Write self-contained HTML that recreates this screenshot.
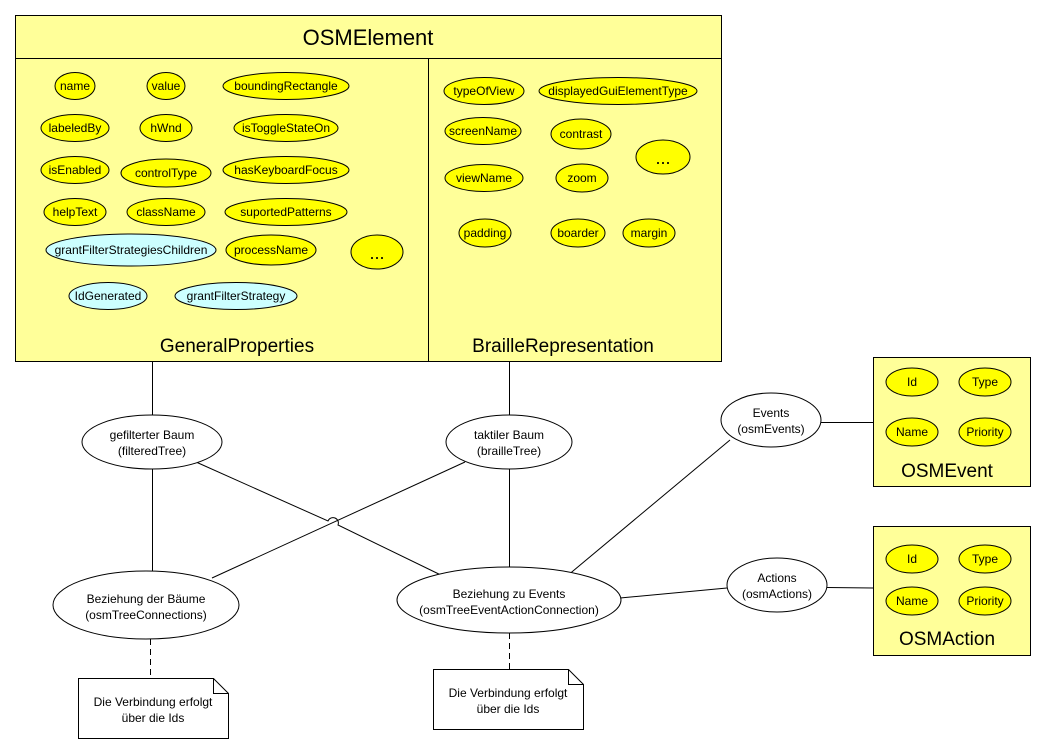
<!DOCTYPE html>
<html><head><meta charset="utf-8"><style>
html,body{margin:0;padding:0;background:#fff;}
svg{display:block;font-family:"Liberation Sans",Arial,sans-serif;}
</style></head><body>
<svg width="1047" height="754" viewBox="0 0 1047 754" xmlns="http://www.w3.org/2000/svg">
<g stroke="#000" stroke-width="1" fill="none">
<rect x="15.5" y="15.5" width="706" height="346" fill="#ffff99"/>
<line x1="15" y1="58.5" x2="721" y2="58.5"/>
<line x1="428.5" y1="58" x2="428.5" y2="361"/>
<rect x="873.5" y="357.5" width="157" height="129" fill="#ffff99"/>
<rect x="873.5" y="526.5" width="157" height="129" fill="#ffff99"/>
<line x1="152.5" y1="361" x2="152.5" y2="415"/>
<line x1="509.5" y1="361" x2="509.5" y2="415"/>
<line x1="152.5" y1="469" x2="152.5" y2="571"/>
<line x1="509.5" y1="469" x2="509.5" y2="567"/>
<path d="M196,462 L328,521 A5,5 0 0 1 338,525 L447,578"/>
<line x1="465" y1="462" x2="212" y2="578"/>
<line x1="730" y1="440" x2="567" y2="576"/>
<line x1="620" y1="598" x2="727" y2="588"/>
<line x1="821" y1="422.5" x2="873" y2="422.5"/>
<line x1="827" y1="587.5" x2="873" y2="588"/>
<line x1="150.5" y1="639" x2="150.5" y2="678" stroke-dasharray="6,4"/>
<line x1="509.5" y1="633" x2="509.5" y2="669" stroke-dasharray="6,4"/>
<path d="M78.5,678.5 H213.5 L228.5,693.5 V738.5 H78.5 Z M213.5,678.5 V693.5 H228.5" fill="#fff"/>
<path d="M433.5,669.5 H568.5 L583.5,684.5 V729.5 H433.5 Z M568.5,669.5 V684.5 H583.5" fill="#fff"/>
<g fill="#fff">
<ellipse cx="152" cy="442" rx="70" ry="27"/>
<ellipse cx="509" cy="442" rx="63" ry="27"/>
<ellipse cx="771" cy="420" rx="50" ry="27"/>
<ellipse cx="777" cy="585" rx="50" ry="27"/>
<ellipse cx="146" cy="605" rx="93" ry="34"/>
<ellipse cx="509" cy="600" rx="112" ry="33"/>
</g>
<g fill="#ffff00">
<ellipse cx="75" cy="86" rx="20" ry="13.5"/>
<ellipse cx="166" cy="86" rx="19" ry="13.5"/>
<ellipse cx="286" cy="86" rx="63" ry="13.5"/>
<ellipse cx="75" cy="128" rx="34" ry="13.5"/>
<ellipse cx="166" cy="128" rx="26" ry="13.5"/>
<ellipse cx="286" cy="128" rx="52" ry="13.5"/>
<ellipse cx="75" cy="170" rx="34" ry="13.5"/>
<ellipse cx="166" cy="173" rx="45" ry="14"/>
<ellipse cx="286" cy="170" rx="63" ry="13.5"/>
<ellipse cx="75" cy="212" rx="31" ry="13.5"/>
<ellipse cx="166" cy="212" rx="39" ry="13.5"/>
<ellipse cx="286" cy="212" rx="61" ry="13.5"/>
<ellipse cx="271" cy="250" rx="45" ry="15"/>
<ellipse cx="377" cy="252" rx="26" ry="17"/>
<ellipse cx="484" cy="91" rx="40" ry="13.5"/>
<ellipse cx="618" cy="91" rx="79" ry="13.5"/>
<ellipse cx="483" cy="131" rx="38" ry="13.5"/>
<ellipse cx="581" cy="134" rx="30" ry="15"/>
<ellipse cx="663" cy="157" rx="27" ry="17"/>
<ellipse cx="484" cy="178" rx="39" ry="13.5"/>
<ellipse cx="582" cy="178" rx="26" ry="14"/>
<ellipse cx="485" cy="233" rx="26" ry="14"/>
<ellipse cx="578" cy="233" rx="27" ry="14"/>
<ellipse cx="649" cy="233" rx="26" ry="14"/>
<ellipse cx="912" cy="382" rx="26" ry="14"/>
<ellipse cx="985" cy="382" rx="26" ry="14"/>
<ellipse cx="912" cy="432" rx="26" ry="14"/>
<ellipse cx="985" cy="432" rx="26" ry="14"/>
<ellipse cx="912" cy="559" rx="26" ry="14"/>
<ellipse cx="985" cy="559" rx="26" ry="14"/>
<ellipse cx="912" cy="601" rx="26" ry="14"/>
<ellipse cx="985" cy="601" rx="26" ry="14"/>
</g>
<g fill="#ccffff">
<ellipse cx="131" cy="250" rx="85" ry="16"/>
<ellipse cx="108" cy="296" rx="39" ry="13.5"/>
<ellipse cx="236" cy="296" rx="61" ry="13.5"/>
</g>
</g>
<g font-size="12" text-anchor="middle" fill="#000">
<text x="75" y="90">name</text>
<text x="166" y="90">value</text>
<text x="286" y="90">boundingRectangle</text>
<text x="75" y="132">labeledBy</text>
<text x="166" y="132">hWnd</text>
<text x="286" y="132">isToggleStateOn</text>
<text x="75" y="174">isEnabled</text>
<text x="166" y="177">controlType</text>
<text x="286" y="174">hasKeyboardFocus</text>
<text x="75" y="216">helpText</text>
<text x="166" y="216">className</text>
<text x="286" y="216">suportedPatterns</text>
<text x="131" y="254">grantFilterStrategiesChildren</text>
<text x="271" y="254">processName</text>
<text x="108" y="300">IdGenerated</text>
<text x="236" y="300">grantFilterStrategy</text>
<text x="484" y="95">typeOfView</text>
<text x="618" y="95">displayedGuiElementType</text>
<text x="483" y="135">screenName</text>
<text x="581" y="138">contrast</text>
<text x="484" y="182">viewName</text>
<text x="582" y="182">zoom</text>
<text x="485" y="237">padding</text>
<text x="578" y="237">boarder</text>
<text x="649" y="237">margin</text>
<text x="912" y="386">Id</text>
<text x="985" y="386">Type</text>
<text x="912" y="436">Name</text>
<text x="985" y="436">Priority</text>
<text x="912" y="563">Id</text>
<text x="985" y="563">Type</text>
<text x="912" y="605">Name</text>
<text x="985" y="605">Priority</text>
<text x="152" y="439">gefilterter Baum</text>
<text x="152" y="455">(filteredTree)</text>
<text x="509" y="439">taktiler Baum</text>
<text x="509" y="455">(brailleTree)</text>
<text x="771" y="417">Events</text>
<text x="771" y="433">(osmEvents)</text>
<text x="777" y="582">Actions</text>
<text x="777" y="598">(osmActions)</text>
<text x="146" y="603">Beziehung der Bäume</text>
<text x="146" y="619">(osmTreeConnections)</text>
<text x="509" y="598">Beziehung zu Events</text>
<text x="509" y="614">(osmTreeEventActionConnection)</text>
<text x="153" y="706">Die Verbindung erfolgt</text>
<text x="153" y="722">über die Ids</text>
<text x="508" y="697">Die Verbindung erfolgt</text>
<text x="508" y="713">über die Ids</text>
</g>
<g text-anchor="middle" fill="#000">
<text x="377" y="259" font-size="18">...</text>
<text x="663" y="164" font-size="18">...</text>
<text x="368" y="45" font-size="22">OSMElement</text>
<text x="237" y="352" font-size="19">GeneralProperties</text>
<text x="563" y="352" font-size="19">BrailleRepresentation</text>
<text x="947" y="477" font-size="19">OSMEvent</text>
<text x="947" y="645" font-size="19">OSMAction</text>
</g>
</svg>
</body></html>
